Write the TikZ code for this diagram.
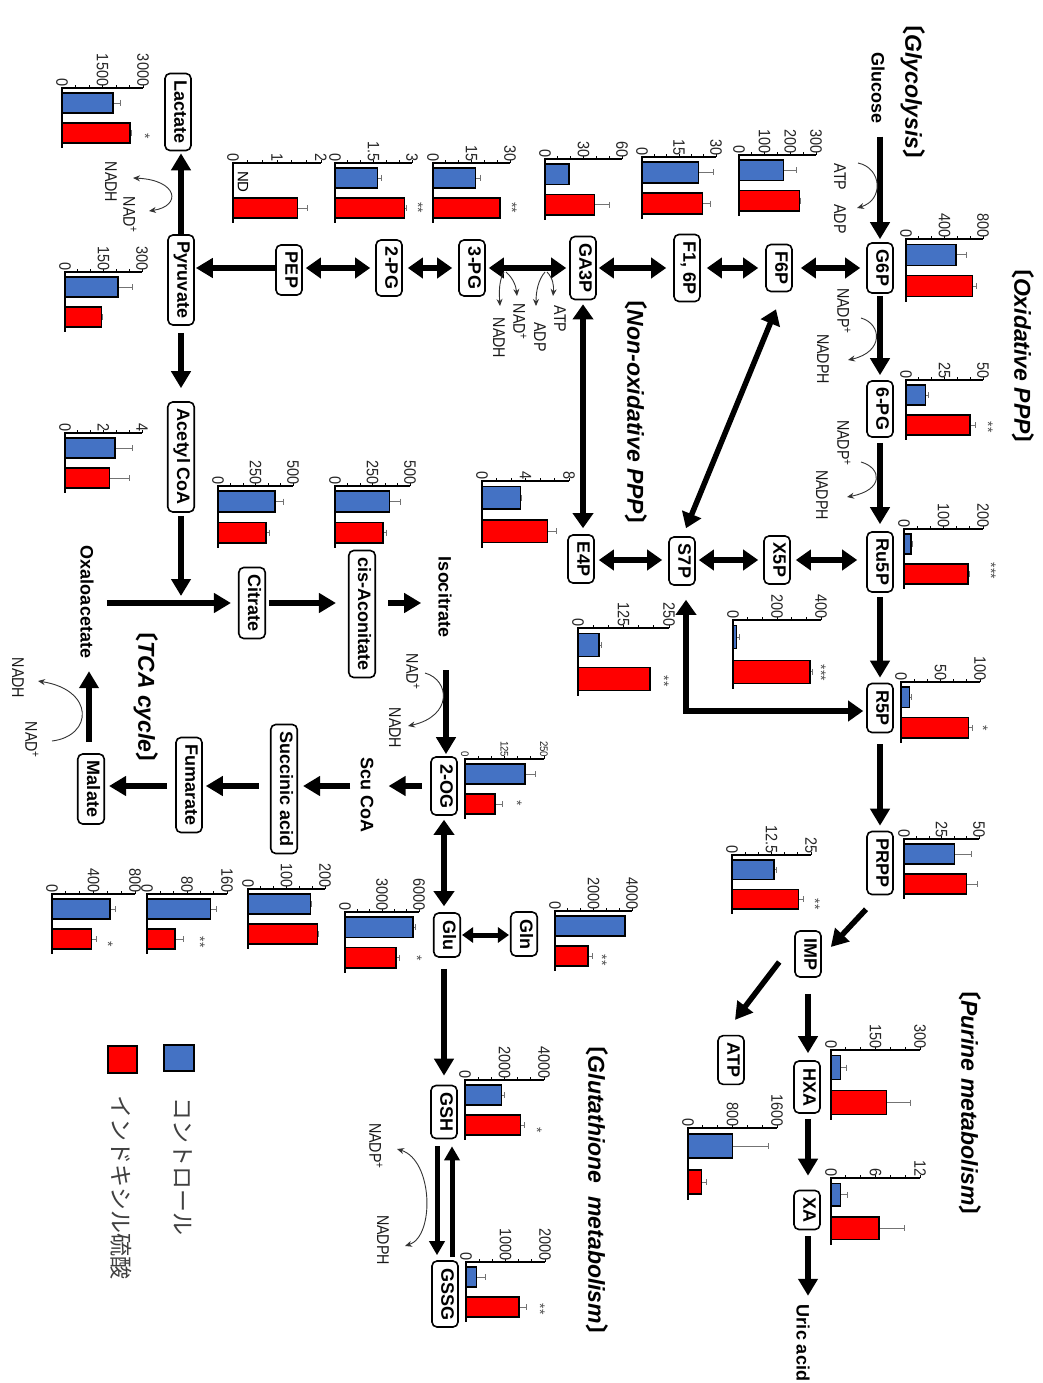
\documentclass[tikz,border=0pt]{standalone}
\usepackage{fontspec}
\setmainfont{Liberation Sans}
\newfontfamily\cjk{Noto Sans CJK JP}
\usepackage{graphicx}
\usetikzlibrary{arrows.meta,calc}
\definecolor{cblue}{HTML}{4472C4}
\definecolor{cred}{HTML}{FF0000}
\newcommand\rt[1]{\rotatebox{-90}{#1}}
\newcommand\tickfont{\fontsize{16.5}{16.5}\selectfont}
\newcommand\bx[3]{\node[box] (#1) at (#2) {\rotatebox{-90}{\strut #3}};}
\newcommand\lbl[2]{\node[lab] at (#1) {\rotatebox{-90}{\scalebox{0.84}[1]{#2}}};}
\newcommand\stars[2]{\node[stt] at (#1) {\rotatebox{-90}{#2}};}
\newcommand\ttl[3]{\node[ttlst] (#1) at (#2) {\rotatebox{-90}{{\cjk 〔}#3{\cjk 〕}}};}
\newcommand\bchart[9]{%
 \begin{scope}[shift={(#1,#2)}]
  \pgfmathsetmacro\bcL{#3}
  \pgfmathsetmacro\bcH{#4}
  \draw[errb] (0,{0.25*\bcH}) -- ({#6*\bcL},{0.25*\bcH});
  \draw[errb] ({#6*\bcL},{0.25*\bcH-3}) -- ({#6*\bcL},{0.25*\bcH+3});
  \draw[errb] (0,{0.75*\bcH}) -- ({#8*\bcL},{0.75*\bcH});
  \draw[errb] ({#8*\bcL},{0.75*\bcH-3}) -- ({#8*\bcL},{0.75*\bcH+3});
  \draw[bar,fill=cblue] (0,{0.083*\bcH}) rectangle ({#5*\bcL},{0.417*\bcH});
  \draw[bar,fill=cred] (0,{0.583*\bcH}) rectangle ({#7*\bcL},{0.917*\bcH});
  \foreach \i in {1,...,6}{\draw[tk] ({\i*\bcL/6},0) -- ({\i*\bcL/6},-3);}
  \draw[axl] (0,0) -- (\bcL,0);
  \draw[basel] (0,-1) -- (0,\bcH);
  \foreach \fv/\tv in {#9}{\node[tlab] at ({\fv*\bcL},-1) {\rotatebox{-90}{\scalebox{0.88}[1]{\tv}}};}
 \end{scope}}
\tikzset{
 box/.style={draw, line width=1.6pt, rounded corners=5pt, fill=white, inner xsep=4pt, inner ysep=7pt, font=\bfseries\fontsize{18}{18}\selectfont},
 ptxt/.style={inner sep=0pt, font=\bfseries\fontsize{18}{18}\selectfont},
 lab/.style={inner sep=0pt, text=black!90, font=\fontsize{17}{17}\selectfont},
 stt/.style={inner sep=0pt, text=black!70, font=\fontsize{14}{14}\selectfont},
 ttlst/.style={inner sep=0pt, font=\bfseries\itshape\fontsize{23}{23}\selectfont},
 tlab/.style={anchor=south, inner sep=0.5pt, text=black!85, font=\tickfont},
 errb/.style={line width=0.9pt, black!55},
 bar/.style={line width=1.3pt, draw=black},
 tk/.style={line width=0.9pt},
 axl/.style={line width=1.6pt},
 basel/.style={line width=2.4pt},
 arr/.style={line width=5.5pt, -{Triangle[length=17pt,width=19pt]}},
 dbl/.style={line width=5.5pt, {Triangle[length=15pt,width=20pt]}-{Triangle[length=15pt,width=20pt]}},
 side/.style={line width=0.9pt, black!80, -{Stealth[length=7pt,width=6pt]}},
 sideb/.style={line width=0.9pt, black!80, {Stealth[length=7pt,width=6pt]}-{Stealth[length=7pt,width=6pt]}}
}
\begin{document}
\begin{tikzpicture}[x=1pt,y=-1pt]
\fill[white] (0,0) rectangle (1043,1383);
\useasboundingbox (0,0) rectangle (1043,1383);

% titles
\ttl{tGly}{913,92}{Glycolysis}
\ttl{tOx}{1023,356}{Oxidative PPP}
\ttl{tNon}{636,412}{Non-oxidative PPP}
\ttl{tTCA}{146,697}{TCA cycle}
\ttl{tGlut}{597,1190}{Glutathione\ \ metabolism}
\ttl{tPur}{970,1103}{Purine metabolism}

% boxes
\bx{G6P}{880,268}{G6P}
\bx{F6P}{779,268}{F6P}
\bx{F16P}{687,268}{F1, 6P}
\bx{GA3P}{583,268}{GA3P}
\bx{PGt}{472,268}{3-PG}
\bx{PGd}{389,268}{2-PG}
\bx{PEP}{289,270}{PEP}
\bx{Pyr}{181,280}{Pyruvate}
\bx{Lac}{178,112}{Lactate}
\bx{AcCoA}{181,457}{Acetyl CoA}
\bx{PGs}{880,409}{6-PG}
\bx{Ru5P}{880,562}{Ru5P}
\bx{R5P}{880,708}{R5P}
\bx{PRPP}{880,863}{PRPP}
\bx{X5P}{777,560}{X5P}
\bx{S7P}{682,561}{S7P}
\bx{E4P}{581,559}{E4P}
\bx{Cit}{252,603}{Citrate}
\bx{cisA}{362,614}{cis-Aconitate}
\bx{OG}{444,786}{2-OG}
\bx{Suc}{284,789}{Succinic acid}
\bx{Fum}{189,785}{Fumarate}
\bx{Mal}{91,789}{Malate}
\bx{Glu}{447,935}{Glu}
\bx{Gln}{524,934}{Gln}
\bx{GSH}{444,1112}{GSH}
\bx{GSSG}{445,1294}{GSSG}
\bx{IMP}{808,954}{IMP}
\bx{ATPb}{731,1060}{ATP}
\bx{HXA}{807,1087}{HXA}
\bx{XA}{807,1210}{XA}

% plain text metabolites
\node[ptxt] (Glc) at (878,88) {\rt{Glucose}};
\node[ptxt] (Iso) at (445,597) {\rt{Isocitrate}};
\node[ptxt] (Oxa) at (87,602) {\rt{Oxaloacetate}};
\node[ptxt] (Scu) at (367,795) {\rt{Scu CoA}};
\node[ptxt] (Uric) at (803,1343) {\rt{Uric acid}};

% glycolysis row
\draw[dbl] ($(F6P.east)+(8,0)$) -- ($(G6P.west)+(-6,0)$);
\draw[dbl] ($(F16P.east)+(6,0)$) -- ($(F6P.west)+(-7,0)$);
\draw[dbl] ($(GA3P.east)+(2,0)$) -- ($(F16P.west)+(-7,0)$);
\draw[dbl] ($(PGt.east)+(3,0)$) -- ($(GA3P.west)+(-3,0)$);
\draw[dbl] ($(PGd.east)+(5,0)$) -- ($(PGt.west)+(-6,0)$);
\draw[dbl] ($(PEP.east|-PGd.east)+(3,0)$) -- ($(PGd.west)+(-5,0)$);
\draw[arr] (PEP.west|-PGd.west) -- ($(Pyr.east|-PGd.west)+(1,0)$);
\draw[arr] (Pyr.north) -- ($(Pyr.north|-Lac.south)+(0,2)$);
\draw[arr] ($(Pyr.south)+(0,7)$) -- ($(AcCoA.north)+(0,-13)$);

% oxidative PPP column
\draw[arr] ($(G6P.north|-Glc.south)+(0,13)$) -- ($(G6P.north)+(0,-3)$);
\draw[arr] ($(G6P.south)+(0,2)$) -- ($(PGs.north)+(0,-5)$);
\draw[arr] ($(PGs.south)+(0,5)$) -- ($(Ru5P.north)+(0,-7)$);
\draw[arr] ($(Ru5P.south)+(0,4)$) -- ($(R5P.north)+(0,-5)$);
\draw[arr] ($(R5P.south)+(0,11)$) -- ($(PRPP.north)+(0,-5)$);

% non-oxidative PPP
\draw[dbl] ($(X5P.east)+(5,0)$) -- ($(Ru5P.west|-X5P.east)+(-9,0)$);
\draw[dbl] ($(S7P.east|-X5P.east)+(3,0)$) -- ($(X5P.west)+(-5,0)$);
\draw[dbl] ($(E4P.east|-X5P.east)+(4,0)$) -- ($(S7P.west|-X5P.east)+(-6,0)$);
\draw[dbl] ($(GA3P.south)+(0,4)$) -- ($(GA3P.south|-E4P.north)+(0,-6)$);
\draw[dbl] ($(F6P.south)+(-3,17)$) -- ($(S7P.north)+(4,-8)$);
\draw[dbl] ($(S7P.south)+(4,14)$) |- ($(R5P.west)+(-3,3)$);

% TCA cycle
\draw[arr] ($(AcCoA.south)+(0,3)$) -- ($(AcCoA.south|-Cit.west)+(0,-7)$);
\draw[arr] ($(Oxa.east|-Cit.west)+(13,0)$) -- ($(Cit.west)+(-7,0)$);
\draw[arr] ($(Cit.east)+(3,0)$) -- ($(cisA.west|-Cit.east)+(-12,0)$);
\draw[arr] ($(cisA.east|-Cit.east)+(12,0)$) -- ($(Iso.west|-Cit.east)+(-17,0)$);
\draw[arr] ($(OG.north|-Iso.south)+(2,33)$) -- ($(OG.north)+(2,-2)$);
\draw[arr] ($(OG.west)+(-8,0)$) -- ($(Scu.east|-OG.west)+(15,0)$);
\draw[arr] ($(Scu.west|-OG.west)+(-10,0)$) -- ($(Suc.east|-OG.west)+(5,0)$);
\draw[arr] ($(Suc.west|-OG.west)+(-11,0)$) -- ($(Fum.east|-OG.west)+(3,0)$);
\draw[arr] ($(Fum.west|-OG.west)+(-8,0)$) -- ($(Mal.east|-OG.west)+(4,0)$);
\draw[arr] ($(Mal.north)+(-2,-11)$) -- ($(Mal.north|-Oxa.south)+(-2,13)$);

% glutamine / glutathione
\draw[dbl] ($(OG.south)+(0,4)$) -- ($(OG.south|-Glu.north)+(0,-6)$);
\draw[line width=5pt, {Triangle[length=11pt,width=15pt]}-{Triangle[length=11pt,width=15pt]}] ($(Glu.east)+(1,0)$) -- ($(Gln.west|-Glu.east)+(-1,0)$);
\draw[arr] ($(OG.south|-Glu.south)+(0,11)$) -- ($(OG.south|-GSH.north)+(0,-9)$);
\draw[line width=5pt, -{Triangle[length=14pt,width=15pt]}] ($(GSH.south)+(-7,7)$) -- ($(GSH.south|-GSSG.north)+(-7,-5)$);
\draw[line width=5pt, -{Triangle[length=14pt,width=15pt]}] ($(GSH.south|-GSSG.north)+(8,-3)$) -- ($(GSH.south)+(8,7)$);

% purine
\draw[arr] ($(PRPP.south)+(-14,14)$) -- ($(IMP.east)+(9,-7)$);
\draw[arr] ($(IMP.west)+(-15,8)$) -- ($(ATPb.north)+(4,-15)$);
\draw[arr] ($(IMP.south)+(0,16)$) -- ($(IMP.south|-HXA.north)+(0,-7)$);
\draw[arr] ($(IMP.south|-HXA.south)+(0,5)$) -- ($(IMP.south|-XA.north)+(0,-14)$);
\draw[arr] ($(IMP.south|-XA.south)+(0,6)$) -- ($(IMP.south|-Uric.north)+(0,-9)$);

% side reactions
\draw[side] (858,163) .. controls (882,168) and (884,200) .. (857,208);
\draw[side] (861,318) .. controls (882,324) and (884,352) .. (848,360);
\draw[side] (861,462) .. controls (882,468) and (884,490) .. (847,497);
\draw[sideb] (133,178) .. controls (178,180) and (182,206) .. (149,211);
\draw[side] (547,272) .. controls (553,278) and (554,286) .. (553,296);
\draw[side] (545,272) .. controls (538,280) and (536,292) .. (536,306);
\draw[side] (506,272) .. controls (513,278) and (516,286) .. (517,296);
\draw[side] (504,272) .. controls (499,280) and (499,292) .. (500,306);
\draw[side] (425,673) .. controls (450,680) and (453,716) .. (408,726);
\draw[side] (52,741) .. controls (93,736) and (95,690) .. (38,681);
\draw[sideb] (397,1149) .. controls (433,1160) and (435,1236) .. (405,1246);

\lbl{840,177}{ATP}
\lbl{840,219}{ADP}
\lbl{844,311}{NADP\textsuperscript{+}}
\lbl{823,359}{NADPH}
\lbl{844,443}{NADP\textsuperscript{+}}
\lbl{822,495}{NADPH}
\lbl{111,182}{NADH}
\lbl{130,215}{NAD\textsuperscript{+}}
\lbl{560,319}{ATP}
\lbl{540,337}{ADP}
\lbl{520,322}{NAD\textsuperscript{+}}
\lbl{499,338}{NADH}
\lbl{413,672}{NAD\textsuperscript{+}}
\lbl{395,728}{NADH}
\lbl{18,678}{NADH}
\lbl{32,740}{NAD\textsuperscript{+}}
\lbl{376,1146}{NADP\textsuperscript{+}}
\lbl{383,1240}{NADPH}

% bar charts
\bchart{62}{88}{81}{60}{0.63}{0.72}{0.84}{0.86}{0/0,0.5/1500,1/3000}
\bchart{65}{272}{77}{60}{0.69}{0.87}{0.47}{0.49}{0/0,0.5/150,1/300}
\bchart{65}{433}{77}{60}{0.65}{0.87}{0.58}{0.84}{0/0,0.5/2,1/4}
\bchart{218}{486}{75}{62}{0.76}{0.87}{0.64}{0.69}{0/0,0.5/250,1/500}
\bchart{335}{486}{75}{62}{0.73}{0.87}{0.64}{0.69}{0/0,0.5/250,1/500}
\bchart{482}{481}{87}{67}{0.44}{0.45}{0.75}{0.86}{0/0,0.5/4,1/8}
\bchart{578}{628}{91}{68}{0.23}{0.26}{0.79}{0.80}{0/0,0.5/125,1/250}
{\renewcommand\tickfont{\fontsize{11}{11}\selectfont}
\bchart{465}{759}{79}{60}{0.76}{0.89}{0.38}{0.48}{0/0,0.5/125,1/250}}
\bchart{733}{620}{88}{69}{0.04}{0.07}{0.875}{0.9}{0/0,0.5/200,1/400}
\bchart{904}{529}{79}{60}{0.09}{0.11}{0.81}{0.83}{0/0,0.5/100,1/200}
\bchart{901}{682}{79}{61}{0.11}{0.13}{0.85}{0.90}{0/0,0.5/50,1/100}
\bchart{904}{839}{75}{60}{0.67}{0.9}{0.83}{0.98}{0/0,0.5/25,1/50}
\bchart{732}{855}{79}{59}{0.53}{0.56}{0.84}{0.9}{0/0,0.5/12.5,1/25}
\bchart{906}{239}{77}{63}{0.65}{0.79}{0.86}{0.91}{0/0,0.5/400,1/800}
\bchart{906}{380}{77}{60}{0.25}{0.29}{0.83}{0.9}{0/0,0.5/25,1/50}
\bchart{739}{155}{77}{61}{0.58}{0.74}{0.79}{0.80}{0/0,0.333/100,0.667/200,1/300}
\bchart{642}{157}{74}{62}{0.76}{0.96}{0.82}{0.92}{0/0,0.5/15,1/30}
\bchart{545}{159}{77}{61}{0.31}{0.32}{0.64}{0.84}{0/0,0.5/30,1/60}
\bchart{433}{163}{77}{60}{0.55}{0.61}{0.87}{0.88}{0/0,0.5/15,1/30}
\bchart{335}{163}{77}{60}{0.55}{0.6}{0.9}{0.93}{0/0,0.5/1.5,1/3}
\bchart{233}{163}{88}{60}{0}{0}{0.73}{0.85}{0/0,0.5/1,1/2}
\bchart{248}{889}{77}{60}{0.81}{0.83}{0.9}{0.91}{0/0,0.5/100,1/200}
\bchart{147}{894}{80}{60}{0.79}{0.87}{0.35}{0.45}{0/0,0.5/80,1/160}
\bchart{52}{894}{83}{60}{0.7}{0.76}{0.48}{0.54}{0/0,0.5/400,1/800}
\bchart{345}{912}{74}{61}{0.92}{0.95}{0.69}{0.73}{0/0,0.5/3000,1/6000}
\bchart{555}{911}{77}{60}{0.91}{0.92}{0.43}{0.48}{0/0,0.5/2000,1/4000}
\bchart{465}{1080}{79}{60}{0.46}{0.5}{0.7}{0.75}{0/0,0.5/2000,1/4000}
\bchart{466}{1262}{79}{60}{0.13}{0.24}{0.67}{0.77}{0/0,0.5/1000,1/2000}
\bchart{831}{1050}{89}{70}{0.11}{0.17}{0.62}{0.89}{0/0,0.5/150,1/300}
\bchart{831}{1178}{89}{67}{0.11}{0.18}{0.54}{0.83}{0/0,0.5/6,1/12}
\bchart{688}{1128}{89}{72}{0.5}{0.9}{0.15}{0.21}{0/0,0.5/800,1/1600}

\node[inner sep=0pt, font=\fontsize{15}{15}\selectfont] (ND) at (243,182) {\rt{ND}};

\stars{145,136}{*}
\stars{664,681}{**}
\stars{517,803}{*}
\stars{821,673}{***}
\stars{991,571}{***}
\stars{983,728}{*}
\stars{815,904}{**}
\stars{988,427}{**}
\stars{512,208}{**}
\stars{418,208}{**}
\stars{200,942}{**}
\stars{108,944}{*}
\stars{417,958}{*}
\stars{602,960}{**}
\stars{537,1130}{*}
\stars{540,1309}{**}

% legend
\node[draw, line width=1.8pt, fill=cblue, minimum width=30pt, minimum height=26pt, inner sep=0pt] (legB) at (179,1058) {};
\node[draw, line width=1.8pt, fill=cred, minimum width=29pt, minimum height=27pt, inner sep=0pt] (legR) at (122.5,1059.5) {};
\node[anchor=north, inner sep=0pt, text=black!75, font=\cjk\fontsize{23}{23}\selectfont] (legBt) at (183,1097) {\rt{コントロール}};
\node[anchor=north, inner sep=0pt, text=black!75, font=\cjk\fontsize{23}{23}\selectfont] (legRt) at (121,1095) {\rt{インドキシル硫酸}};
\end{tikzpicture}
\end{document}
